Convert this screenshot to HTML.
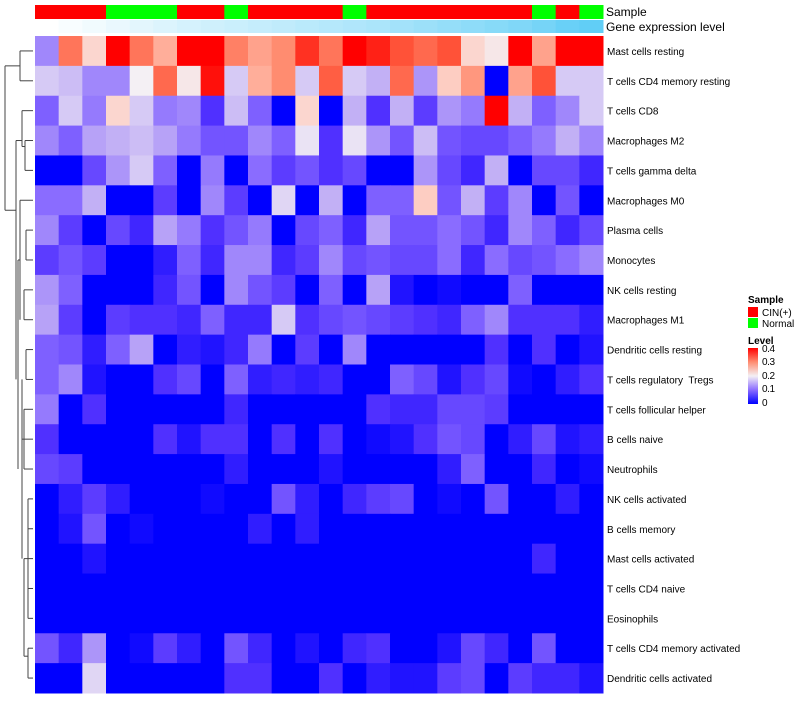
<!DOCTYPE html>
<html><head><meta charset="utf-8"><style>
body{margin:0;background:#fff;font-family:"Liberation Sans",sans-serif}
svg text{font-family:"Liberation Sans",sans-serif;white-space:pre}
</style></head><body>
<svg id="chart" width="800" height="700" xmlns="http://www.w3.org/2000/svg" xml:space="preserve">
<g id="dendro" stroke="#444" stroke-width="1" fill="none"></g>
<g id="cells"></g>
<g id="annos"></g>
<g id="labels" font-size="10" fill="#000"></g>
<text x="606" y="16" font-size="12">Sample</text>
<text x="606" y="31" font-size="12">Gene expression level</text>
<g font-size="10">
<text x="748" y="303" font-weight="bold">Sample</text>
<rect x="748" y="307" width="10" height="10" fill="#ff0000"/>
<text x="762" y="316">CIN(+)</text>
<rect x="748" y="318" width="10" height="10" fill="#00ff00"/>
<text x="762" y="327">Normal</text>
<text x="748" y="344" font-weight="bold">Level</text>
<defs><linearGradient id="lg" x1="0" y1="0" x2="0" y2="1">
<stop offset="0" stop-color="#ff0000"/><stop offset="0.25" stop-color="#ff8c70"/><stop offset="0.5" stop-color="#f4f0f4"/><stop offset="0.75" stop-color="#8a6cff"/><stop offset="1" stop-color="#0000ff"/></linearGradient></defs>
<rect x="748" y="348" width="10" height="56" fill="url(#lg)"/>
<text x="762" y="352" textLength="13">0.4</text>
<text x="762" y="365" textLength="13">0.3</text>
<text x="762" y="379" textLength="13">0.2</text>
<text x="762" y="392" textLength="13">0.1</text>
<text x="762" y="406">0</text>
</g>
</svg>
<script>
const rowNames=["Mast cells resting","T cells CD4 memory resting","T cells CD8","Macrophages M2","T cells gamma delta","Macrophages M0","Plasma cells","Monocytes","NK cells resting","Macrophages M1","Dendritic cells resting","T cells regulatory  Tregs","T cells follicular helper","B cells naive","Neutrophils","NK cells activated","B cells memory","Mast cells activated","T cells CD4 naive","Eosinophils","T cells CD4 memory activated","Dendritic cells activated"];
const sampleGroups=["CIN","CIN","CIN","Normal","Normal","Normal","CIN","CIN","Normal","CIN","CIN","CIN","CIN","Normal","CIN","CIN","CIN","CIN","CIN","CIN","CIN","Normal","CIN","Normal"];
const geneLevels=[0,0.04,0.08,0.12,0.16,0.2,0.24,0.27,0.3,0.33,0.36,0.39,0.42,0.45,0.48,0.52,0.56,0.6,0.64,0.68,0.72,0.78,0.85,0.9];
const values=[
[0.12,0.32,0.23,0.4,0.32,0.27,0.4,0.4,0.31,0.28,0.3,0.37,0.32,0.4,0.38,0.35,0.33,0.35,0.23,0.21,0.4,0.28,0.4,0.4],
[0.17,0.16,0.12,0.12,0.2,0.33,0.21,0.39,0.17,0.27,0.3,0.17,0.34,0.17,0.15,0.33,0.13,0.24,0.29,0,0.28,0.35,0.17,0.17],
[0.09,0.17,0.11,0.23,0.17,0.11,0.12,0.05,0.16,0.09,0,0.23,0,0.15,0.05,0.15,0.06,0.13,0.11,0.4,0.15,0.09,0.12,0.17],
[0.12,0.09,0.14,0.15,0.16,0.14,0.11,0.08,0.08,0.12,0.09,0.19,0.05,0.19,0.13,0.08,0.16,0.08,0.07,0.07,0.09,0.11,0.15,0.12],
[0,0,0.07,0.13,0.17,0.09,0,0.11,0,0.1,0.06,0.08,0.05,0.07,0,0,0.13,0.07,0.04,0.15,0,0.07,0.07,0.04],
[0.1,0.1,0.15,0,0,0.06,0,0.12,0.06,0,0.18,0,0.15,0,0.09,0.09,0.24,0.08,0.15,0.06,0.12,0,0.08,0],
[0.12,0.06,0,0.07,0.04,0.14,0.11,0.05,0.08,0.11,0,0.07,0.09,0.04,0.14,0.08,0.08,0.1,0.08,0.04,0.12,0.09,0.04,0.07],
[0.06,0.08,0.06,0,0,0.03,0.09,0.04,0.12,0.12,0.04,0.06,0.12,0.07,0.08,0.07,0.07,0.1,0.04,0.1,0.07,0.08,0.1,0.12],
[0.13,0.09,0,0,0,0.04,0.08,0,0.12,0.08,0.06,0,0.09,0,0.14,0.02,0,0.01,0,0,0.09,0,0,0],
[0.14,0.06,0,0.06,0.05,0.05,0.04,0.09,0.04,0.04,0.17,0.05,0.07,0.08,0.07,0.06,0.05,0.04,0.09,0.12,0.05,0.05,0.05,0.03],
[0.09,0.08,0.03,0.09,0.14,0,0.03,0.02,0.04,0.11,0,0.06,0,0.12,0,0,0,0,0,0.05,0,0.05,0,0.02],
[0.09,0.12,0.02,0,0,0.05,0.07,0,0.09,0.03,0.04,0.03,0.04,0,0,0.09,0.07,0.02,0.05,0.07,0.01,0,0.03,0.05],
[0.11,0,0.05,0,0,0,0,0,0.04,0,0,0,0,0,0.05,0.04,0.04,0.07,0.07,0.06,0,0,0,0],
[0.05,0,0,0,0,0.05,0.02,0.05,0.05,0,0.05,0,0.05,0,0.01,0.02,0.05,0.08,0.07,0,0.03,0.07,0.02,0.03],
[0.07,0.06,0,0,0,0,0,0,0.03,0,0,0,0.02,0,0,0,0,0.03,0.09,0,0,0.04,0,0.01],
[0,0.03,0.06,0.03,0,0,0,0.01,0,0,0.08,0.03,0,0.04,0.06,0.07,0,0.01,0,0.08,0,0,0.03,0],
[0,0.02,0.08,0,0.01,0,0,0,0,0.03,0,0.03,0,0,0,0,0,0,0,0,0,0,0,0],
[0,0,0.02,0,0,0,0,0,0,0,0,0,0,0,0,0,0,0,0,0,0,0.04,0,0],
[0,0,0,0,0,0,0,0,0,0,0,0,0,0,0,0,0,0,0,0,0,0,0,0],
[0,0,0,0,0,0,0,0,0,0,0,0,0,0,0,0,0,0,0,0,0,0,0,0],
[0.08,0.04,0.13,0,0.01,0.06,0.03,0,0.08,0.04,0,0.02,0,0.04,0.05,0,0,0.02,0.07,0.04,0,0.08,0,0],
[0,0,0.18,0,0,0,0,0,0.05,0.05,0,0,0.05,0,0.03,0.02,0.02,0.06,0.07,0,0.06,0.04,0.04,0.02]];
const X0=35,X1=603,Y0=36,Y1=693;
const nC=24,nR=22,cw=(X1-X0)/nC,rh=(Y1-Y0)/nR;
const xAt=c=>X0+c*cw, yAt=r=>Y0+r*rh;
const stops=[[0,[0,0,255]],[0.05,[80,48,255]],[0.1,[138,108,255]],[0.15,[194,176,245]],[0.2,[244,240,244]],[0.25,[255,196,182]],[0.3,[255,140,112]],[0.35,[255,82,56]],[0.4,[255,0,0]]];
function col(v){v=Math.max(0,Math.min(0.4,v));for(let i=1;i<stops.length;i++){if(v<=stops[i][0]){const a=stops[i-1],b=stops[i],t=(v-a[0])/(b[0]-a[0]);return 'rgb('+a[1].map((x,k)=>Math.round(x+(b[1][k]-x)*t)).join(',')+')';}}return 'rgb(255,0,0)';}
const NS="http://www.w3.org/2000/svg";
function mk(tag,attrs,parent){const e=document.createElementNS(NS,tag);for(const k in attrs)e.setAttribute(k,attrs[k]);parent.appendChild(e);return e;}
const cells=document.getElementById('cells');
values.forEach((row,r)=>row.forEach((v,c)=>{
 const e=mk('rect',{x:xAt(c),y:yAt(r),width:cw+0.5,height:rh+0.5,fill:col(v)},cells);
 
 
}));
const annos=document.getElementById('annos');
sampleGroups.forEach((g,c)=>{
 const e=mk('rect',{x:xAt(c),y:5,width:cw+0.5,height:14,fill:g==='CIN'?'#ff0000':'#00ff00'},annos);
 
 
});
geneLevels.forEach((g,c)=>{
 const r=Math.round(255+(79-255)*g),gg=Math.round(255+(200-255)*g),b=Math.round(255+(245-255)*g);
 const e=mk('rect',{x:xAt(c),y:20,width:cw+0.5,height:13,fill:'rgb('+r+','+gg+','+b+')'},annos);
 
 
});
const labels=document.getElementById('labels');
rowNames.forEach((n,r)=>{
 const t=mk('text',{x:607,y:yAt(r)+rh/2+4},labels);t.textContent=n;
 
 
});
const d=document.getElementById('dendro');
const yc=r=>yAt(r)+rh/2;
const segs=[
 [20,yc(0),33,yc(0)],[20,yc(1),33,yc(1)],[20,yc(0),20,yc(1)],
 [5,(yc(0)+yc(1))/2,20,(yc(0)+yc(1))/2],
 [5,(yc(0)+yc(1))/2,5,yc(5)+10],[5,yc(5)+10,16,yc(5)+10],
 [22,yc(2),33,yc(2)],[22,yc(2),22,yc(3)+6],[22,yc(3)+6,25,yc(3)+6],[25,yc(3),33,yc(3)],[25,yc(4),33,yc(4)],[25,yc(3),25,yc(4)],
 [16,yc(3),22,yc(3)],[16,yc(3),16,yc(11)],
 [20,yc(5),33,yc(5)],[20,yc(5),20,yc(9)],
 [26,yc(6),33,yc(6)],[26,yc(6),26,yc(7)],[26,yc(7),33,yc(7)],
 [24,yc(8),33,yc(8)],[24,yc(9),33,yc(9)],[24,yc(8),24,yc(9)],
 [18,yc(7),20,yc(7)],[18,yc(7),18,yc(14)],
 [26,yc(10),33,yc(10)],[26,yc(11),33,yc(11)],[26,yc(10),26,yc(11)],
 [24,yc(12),33,yc(12)],[24,yc(13),33,yc(13)],[24,yc(14),33,yc(14)],[24,yc(12),24,yc(14)],
 [22,yc(13),24,yc(13)],[22,yc(11),22,yc(17)],
 [28,yc(15),33,yc(15)],[28,yc(16),33,yc(16)],[28,yc(17),33,yc(17)],[28,yc(18),33,yc(18)],[28,yc(19),33,yc(19)],[28,yc(15),28,yc(19)],
 [24,yc(17),28,yc(17)],[24,yc(17),24,yc(20)+8],
 [28,yc(20),33,yc(20)],[28,yc(21),33,yc(21)],[28,yc(20),28,yc(21)],[24,yc(20)+8,28,yc(20)+8]
];
segs.forEach((s,i)=>{
 const e=mk('line',{x1:s[0],y1:s[1],x2:s[2],y2:s[3]},d);
 
 
});
</script>
</body></html>
